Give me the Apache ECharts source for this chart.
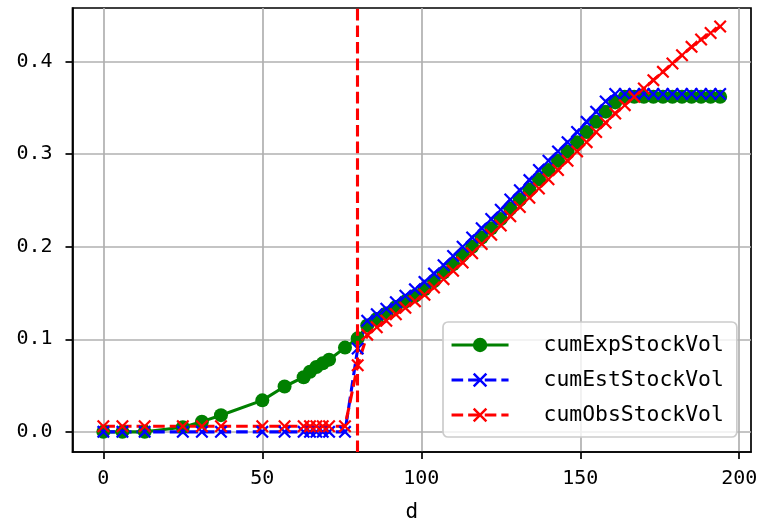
<!DOCTYPE html>
<html>
<head>
<meta charset="utf-8">
<script src="https://cdn.jsdelivr.net/npm/echarts@6/dist/echarts.min.js"></script>
<style>
html,body{margin:0;padding:0;background:#fff;}
#chart{width:759px;height:522px;}
</style>
</head>
<body>
<div id="chart"></div>
<script>
// ---- data ----
const days = [0, 6, 13, 25, 31, 37, 50, 57, 63, 65, 67, 69, 71, 76, 80,
  83, 86, 89, 92, 95, 98, 101, 104, 107, 110, 113, 116, 119, 122, 125, 128, 131, 134, 137, 140,
  143, 146, 149, 152, 155, 158, 161, 164, 167, 170, 173, 176, 179, 182, 185, 188, 191, 194];

const cumExpStockVol = [0.000, 0.000, 0.000, 0.005, 0.011, 0.018, 0.034, 0.049, 0.059, 0.065, 0.070, 0.074, 0.078, 0.091, 0.101,
  0.115, 0.122, 0.128, 0.135, 0.141, 0.147, 0.154, 0.163, 0.172, 0.181, 0.191, 0.200, 0.210, 0.220, 0.230, 0.241, 0.251, 0.262, 0.273, 0.283,
  0.293, 0.303, 0.313, 0.324, 0.335, 0.346, 0.356, 0.362, 0.362, 0.362, 0.362, 0.362, 0.362, 0.362, 0.362, 0.362, 0.362, 0.362];

const cumEstStockVol = [0.000, 0.000, 0.000, 0.000, 0.000, 0.000, 0.000, 0.000, 0.000, 0.000, 0.000, 0.000, 0.000, 0.000, 0.090,
  0.120, 0.127, 0.133, 0.140, 0.147, 0.154, 0.162, 0.171, 0.180, 0.190, 0.200, 0.210, 0.220, 0.230, 0.240, 0.251, 0.261, 0.272, 0.283, 0.293,
  0.303, 0.313, 0.324, 0.335, 0.346, 0.357, 0.365, 0.365, 0.365, 0.365, 0.365, 0.365, 0.365, 0.365, 0.365, 0.365, 0.365, 0.365];

const cumObsStockVol = [0.006, 0.006, 0.006, 0.006, 0.006, 0.006, 0.006, 0.006, 0.006, 0.006, 0.006, 0.006, 0.006, 0.006, 0.072,
  0.105, 0.113, 0.120, 0.127, 0.134, 0.141, 0.148, 0.156, 0.165, 0.174, 0.183, 0.193, 0.203, 0.213, 0.223, 0.233, 0.243, 0.253, 0.263, 0.273,
  0.283, 0.293, 0.303, 0.313, 0.324, 0.334, 0.344, 0.353, 0.362, 0.371, 0.380, 0.389, 0.398, 0.407, 0.416, 0.424, 0.431, 0.438];

const cutoffDay = 80;
const xTicks = [0, 50, 100, 150, 200];
const yTicks = [0.0, 0.1, 0.2, 0.3, 0.4];
const xName = 'd';

// ---- chart ----
const FONT = '"DejaVu Sans Mono", "Liberation Mono", monospace';
const X_SYMBOL = 'path://M0,1.2 L1.2,0 L5,3.8 L8.8,0 L10,1.2 L6.2,5 L10,8.8 L8.8,10 L5,6.2 L1.2,10 L0,8.8 L3.8,5 Z';
const pairs = arr => days.map((d, i) => [d, arr[i]]);

const chart = echarts.init(document.getElementById('chart'), null, {renderer: 'canvas'});
const DASH = [11.6, 5];
const option = {
  animation: false,
  backgroundColor: '#ffffff',
  grid: {left: 72.5, right: 8, top: 8, bottom: 70, containLabel: false, outerBoundsMode: 'none',
    show: true, borderColor: '#000', borderWidth: 1.7, backgroundColor: 'transparent'},
  xAxis: {
    type: 'value', min: -9.7, max: 203.7,
    name: xName, nameLocation: 'middle', nameGap: 50,
    nameTextStyle: {fontFamily: FONT, fontSize: 21, color: '#000'},
    axisLine: {show: true, onZero: false, lineStyle: {color: '#000', width: 1.7}},
    axisTick: {show: true, inside: false, length: 7, lineStyle: {color: '#000', width: 1.7}, customValues: xTicks},
    axisLabel: {customValues: xTicks, fontFamily: FONT, fontSize: 20, color: '#000', margin: 17},
    splitLine: {show: true, lineStyle: {color: '#b0b0b0', width: 1.7}}
  },
  yAxis: {
    type: 'value', min: -0.0218, max: 0.458,
    axisLine: {show: true, onZero: false, lineStyle: {color: '#000', width: 1.7}},
    axisTick: {show: true, inside: false, length: 7, lineStyle: {color: '#000', width: 1.7}, customValues: yTicks},
    axisLabel: {customValues: yTicks, fontFamily: FONT, fontSize: 20, color: '#000', margin: 20,
      formatter: v => v.toFixed(1)},
    splitLine: {show: true, lineStyle: {color: '#b0b0b0', width: 1.7}}
  },
  legend: {
    orient: 'vertical', left: 443, top: 322,
    padding: [10, 13, 9, 7],
    itemWidth: 57, itemHeight: 18, itemGap: 9,
    backgroundColor: 'rgba(255,255,255,0.8)', borderColor: '#cccccc', borderWidth: 1.7, borderRadius: 5,
    lineStyle: {width: 3.1},
    textStyle: {fontFamily: FONT, fontSize: 21.4, color: '#000', lineHeight: 26, padding: [0, 0, 0, 30]},
    data: ['cumExpStockVol', 'cumEstStockVol', 'cumObsStockVol']
  },
  series: [
    {
      name: 'cumExpStockVol', type: 'line', data: pairs(cumExpStockVol),
      symbol: 'circle', symbolSize: 14, showAllSymbol: true,
      lineStyle: {color: '#008000', width: 3.1},
      itemStyle: {color: '#008000'}
    },
    {
      name: 'cumEstStockVol', type: 'line', data: pairs(cumEstStockVol),
      symbol: X_SYMBOL, symbolSize: 13, showAllSymbol: true,
      lineStyle: {color: '#0000ff', width: 3.1, type: DASH},
      itemStyle: {color: '#0000ff'}
    },
    {
      name: 'cumObsStockVol', type: 'line', data: pairs(cumObsStockVol),
      symbol: X_SYMBOL, symbolSize: 13, showAllSymbol: true,
      lineStyle: {color: '#ff0000', width: 3.1, type: DASH},
      itemStyle: {color: '#ff0000'},
      markLine: {
        silent: true, symbol: 'none', label: {show: false},
        lineStyle: {color: '#ff0000', width: 3.1, type: DASH},
        data: [{xAxis: cutoffDay}]
      }
    }
  ]
};
chart.setOption(option);
</script>
</body>
</html>
